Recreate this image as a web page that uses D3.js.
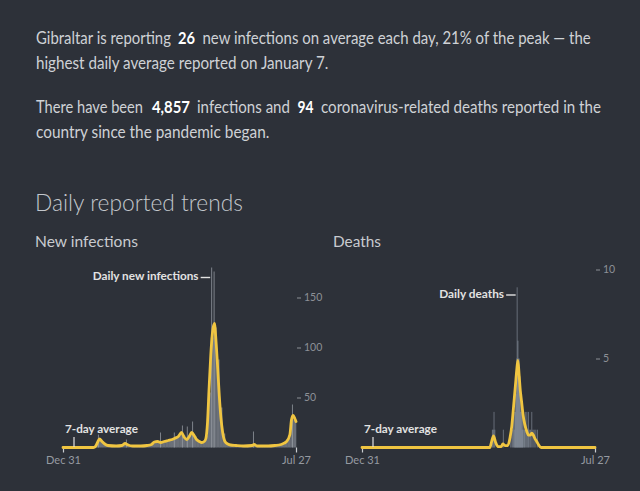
<!DOCTYPE html>
<html><head><meta charset="utf-8">
<script src="https://cdn.jsdelivr.net/npm/d3@7"></script>
<style>
body{margin:0;background:#2d3139;}
svg{display:block;}
text{font-family:Lato,"Source Sans Pro","Noto Sans",sans-serif;}
</style>
</head><body>
<svg id="c" width="640" height="491"></svg>
<script>
// ---------- DATA ----------
const startDate = "2019-12-31", endDate = "2021-07-27";
const xTickLabels = ["Dec 31", "Jul 27"];
const caseTicks = [50, 100, 150];
const deathTicks = [5, 10];

// New infections, 7-day average
const caseAvgDates = ["2019-12-31","2020-03-15","2020-03-20","2020-03-25","2020-03-30","2020-04-05","2020-04-12","2020-04-20","2020-05-10","2020-05-24","2020-06-01","2020-06-08","2020-06-20","2020-07-10","2020-07-25","2020-08-05","2020-08-12","2020-08-20","2020-08-28","2020-09-05","2020-09-15","2020-09-25","2020-10-03","2020-10-10","2020-10-18","2020-10-25","2020-10-31","2020-11-06","2020-11-12","2020-11-18","2020-11-24","2020-12-01","2020-12-07","2020-12-13","2020-12-17","2020-12-21","2020-12-25","2020-12-29","2021-01-02","2021-01-07","2021-01-11","2021-01-15","2021-01-19","2021-01-23","2021-01-27","2021-02-02","2021-02-09","2021-02-16","2021-03-01","2021-03-20","2021-04-10","2021-04-15","2021-04-22","2021-05-20","2021-06-05","2021-06-20","2021-07-04","2021-07-12","2021-07-16","2021-07-20","2021-07-24","2021-07-27"];
const caseAvgValues = [0,0,1,5,8.5,6,3.5,2,1.5,2,4,2.5,1.5,1.5,2,3,5.5,6,5,6,7,8,9.5,11,15,10,8,11,15,12,8,6,5,6,9,25,60,92,114,124,106,80,52,30,16,6,3.5,2.5,2,1.5,2,3,1.5,1.5,2,3,6,13,28,32,29,26];

// New infections, daily reports: weekly mean of the daily bars (weeks from Dec 31, 2019)
const caseWeekValues = [0,0,0,0,0,0,0,0,0,0,0.3,2,7,7,4,2,2,1,1.5,2,2,4,4,2,1.5,1.5,1,1.5,2,2,3,4,6,6,5,6,6,7,8,9,11,14,12,9,12,15,11,7,5,5,12,55,110,120,88,40,14,5,3,2.5,2,2,2,1.5,1.5,2,2.5,3,1.5,1.5,1.5,1.5,1.5,2,2,2.5,3,3,5,9,28,28];
// New infections, single days standing out
const caseSpikeDates = ["2020-03-26","2020-06-03","2020-08-26","2020-09-29","2020-10-19","2020-10-31","2020-11-13","2020-12-30","2021-01-05","2021-04-12","2021-07-17"];
const caseSpikeValues = [13,8,15,15,22,21,26,180,176,16,43];

// Deaths, 7-day average
const deathAvgDates = ["2019-12-31","2020-11-10","2020-11-14","2020-11-19","2020-11-24","2020-11-30","2020-12-08","2020-12-12","2020-12-18","2020-12-24","2020-12-30","2021-01-03","2021-01-07","2021-01-12","2021-01-15","2021-01-18","2021-01-21","2021-01-24","2021-01-27","2021-01-31","2021-02-04","2021-02-09","2021-02-13","2021-02-17","2021-02-21","2021-02-25","2021-03-01","2021-03-05","2021-03-10","2021-03-16","2021-07-27"];
const deathAvgValues = [0,0,0.3,0.65,0.3,0.05,0.05,0.2,0.1,0.1,0.6,1.2,2.2,3.5,4.3,4.9,4.1,3.2,2.6,1.8,1.3,0.9,0.7,0.7,0.8,0.7,0.5,0.35,0.15,0,0];

// Deaths, daily reports
const deathDailyDates = ["2020-11-15","2020-11-17","2020-11-19","2020-11-21","2020-12-12","2020-12-30","2021-01-02","2021-01-04","2021-01-06","2021-01-08","2021-01-09","2021-01-10","2021-01-11","2021-01-12","2021-01-13","2021-01-14","2021-01-15","2021-01-16","2021-01-17","2021-01-18","2021-01-19","2021-01-20","2021-01-21","2021-01-22","2021-01-23","2021-01-24","2021-01-25","2021-01-26","2021-01-27","2021-01-28","2021-01-29","2021-01-30","2021-02-01","2021-02-02","2021-02-04","2021-02-06","2021-02-08","2021-02-10","2021-02-12","2021-02-14","2021-02-17","2021-02-20","2021-02-23","2021-02-26","2021-03-02","2021-03-06"];
const deathDailyValues = [1,1,2,1,1,1,1,1,2,2,1,3,2,4,3,5,9,4,6,5,4,5,3,4,2,3,2,3,1,2,1,2,1,1,2,1,2,1,2,1,1,2,1,1,1,1];

// ---------- DRAW ----------
const parse = d3.utcParse("%Y-%m-%d");
const svg = d3.select("#c");
svg.append("rect").attr("width",640).attr("height",491).attr("fill","#2d3139");

const YELLOW = "#f0c541";

// place a text so that it spans [x0, x0+w], squeezing horizontally (keeps glyph height)
function fitText(sel, x0, y, w){
  sel.attr("x",0).attr("y",0);
  const nat = sel.node().getComputedTextLength();
  const sx = nat > 0 ? w / nat : 1;
  sel.attr("transform",`translate(${x0},${y}) scale(${sx},1)`);
  return sel;
}

// Header paragraphs: [text, bold, xStart, xEnd, baseline]
const header = [
  ["Gibraltar is reporting", false, 36, 171, 44],
  ["26", true, 178, 195, 44],
  ["new infections on average each day, 21% of the peak \u2014 the", false, 202.5, 591, 44],
  ["highest daily average reported on January 7.", false, 36, 328.5, 69],
  ["There have been", false, 36, 143, 113],
  ["4,857", true, 152, 190, 113],
  ["infections and", false, 197, 290, 113],
  ["94", true, 297.5, 313.5, 113],
  ["coronavirus-related deaths reported in the", false, 321, 601, 113],
  ["country since the pandemic began.", false, 36, 269.5, 138]
];
header.forEach(d => {
  const t = svg.append("text").attr("font-size",16.4)
    .attr("font-weight", d[1] ? 700 : 400)
    .attr("fill", d[1] ? "#ffffff" : "#cfd2d6").text(d[0]);
  fitText(t, d[2], d[4], d[3]-d[2]);
});

fitText(svg.append("text").attr("font-size",23).attr("font-weight",300).attr("fill","#c3c7cc")
  .text("Daily reported trends"), 35, 211, 208);
fitText(svg.append("text").attr("font-size",15).attr("fill","#c8cbd0").text("New infections"), 35, 247, 103);
fitText(svg.append("text").attr("font-size",15).attr("fill","#c8cbd0").text("Deaths"), 333, 247, 48);

function panel(cfg){
  const x = d3.scaleUtc().domain([parse(startDate), parse(endDate)]).range([cfg.x0, cfg.x1]);
  const y = d3.scaleLinear().domain([0, cfg.topVal]).range([447.5, cfg.topY]);
  const g = svg.append("g");

  if (cfg.weeks){
    const s = parse(startDate);
    g.selectAll("rect.wk").data(cfg.weeks).join("rect")
      .attr("x",(d,i)=>x(d3.utcDay.offset(s,7*i)))
      .attr("width",(d,i)=>Math.max(0,x(d3.utcDay.offset(s,7*i+7))-x(d3.utcDay.offset(s,7*i))+0.3))
      .attr("y",d=>y(d)).attr("height",d=>y(0)-y(d))
      .attr("fill","#6f747c").attr("opacity",0.95);
  }
  g.selectAll("line.sp").data(cfg.spikeDates).join("line")
    .attr("x1",d=>x(parse(d))+0.5).attr("x2",d=>x(parse(d))+0.5)
    .attr("y1",y(0)).attr("y2",(d,i)=>y(cfg.spikeValues[i]))
    .attr("stroke",cfg.spikeColor).attr("stroke-width",1).attr("opacity",cfg.spikeOpacity);

  const xa = g.append("g").attr("transform",`translate(0,${y(0)})`)
    .call(d3.axisBottom(x).tickValues([parse(startDate), parse(endDate)])
      .tickFormat((d,i)=>xTickLabels[i]).tickSize(5).tickPadding(4));
  xa.select(".domain").remove();
  xa.selectAll("line").attr("stroke","#c9ccd0").attr("stroke-width",1.2);
  xa.selectAll("text").attr("fill","#969aa1").attr("font-size",11)
    .attr("font-family","Lato,sans-serif");

  const ya = g.append("g").attr("transform",`translate(${cfg.x1+1},0)`)
    .call(d3.axisRight(y).tickValues(cfg.ticks).tickSize(4).tickPadding(3));
  ya.select(".domain").remove();
  ya.selectAll("line").attr("stroke","#8c9096");
  ya.selectAll("text").attr("fill","#8c9096").attr("font-size",10.5)
    .attr("font-family","Lato,sans-serif");

  const pts = cfg.avgDates.map((d,i)=>[parse(d), cfg.avgValues[i]]);
  g.append("path").datum(pts)
    .attr("d", d3.line().x(d=>x(d[0])).y(d=>y(d[1])).curve(d3.curveMonotoneX))
    .attr("fill","none").attr("stroke",YELLOW).attr("stroke-width",2.8)
    .attr("stroke-linejoin","round").attr("stroke-linecap","round");

  g.append("line").attr("x1",cfg.x0+11).attr("x2",cfg.x0+11).attr("y1",437).attr("y2",447)
    .attr("stroke","#e2e2e2").attr("stroke-width",1.2);
  fitText(g.append("text").attr("font-size",11).attr("font-weight",700).attr("fill","#e2e2e2")
    .text("7-day average"), cfg.x0+2, 432.5, 73);

  const lx = x(parse(cfg.labelDate));
  g.append("line").attr("x1",lx-10.5).attr("x2",lx-1).attr("y1",cfg.labelY-2.5).attr("y2",cfg.labelY-2.5)
    .attr("stroke","#e2e2e2").attr("stroke-width",1.4);
  fitText(g.append("text").attr("font-size",11).attr("font-weight",700).attr("fill","#e2e2e2")
    .text(cfg.label), lx-12.5-cfg.labelW, cfg.labelY, cfg.labelW);
}

panel({x0:63, x1:296, topVal:150, topY:297.5, ticks:caseTicks,
  weeks:caseWeekValues, spikeDates:caseSpikeDates, spikeValues:caseSpikeValues,
  spikeColor:"#9a9fa6", spikeOpacity:0.75,
  avgDates:caseAvgDates, avgValues:caseAvgValues,
  label:"Daily new infections", labelDate:"2020-12-30", labelY:280, labelW:106});

panel({x0:362, x1:595, topVal:10, topY:269.5, ticks:deathTicks,
  weeks:null, spikeDates:deathDailyDates, spikeValues:deathDailyValues,
  spikeColor:"#8d96a3", spikeOpacity:0.6,
  avgDates:deathAvgDates, avgValues:deathAvgValues,
  label:"Daily deaths", labelDate:"2021-01-15", labelY:297.5, labelW:65});
</script>
</body></html>
